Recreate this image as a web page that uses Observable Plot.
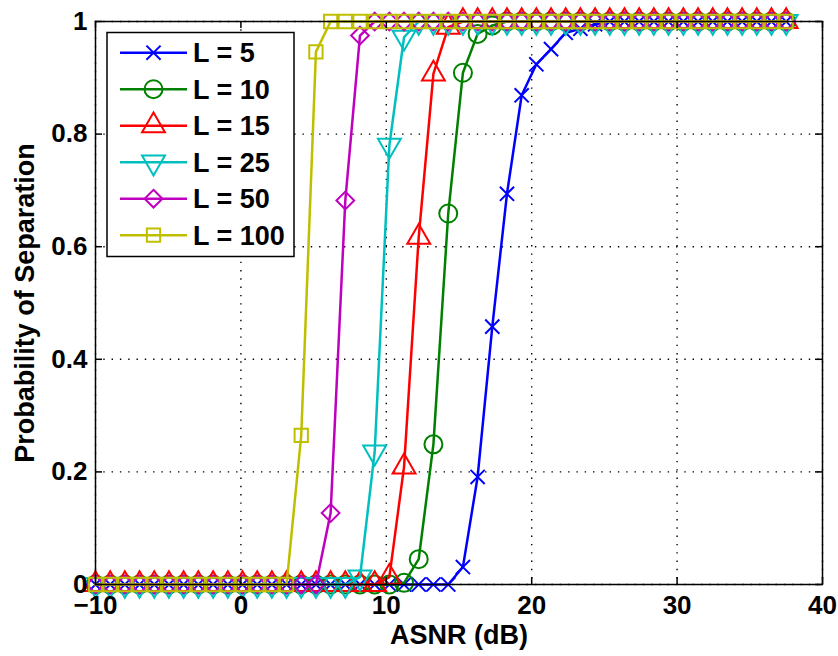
<!DOCTYPE html>
<html><head><meta charset="utf-8">
<script src="https://cdn.jsdelivr.net/npm/d3@7"></script>
<script src="https://cdn.jsdelivr.net/npm/@observablehq/plot@0.6"></script>
<style>
body{margin:0;background:#fff;}
#wrap{position:relative;width:838px;height:656px;background:#fff;}
</style></head><body><div id="wrap"></div>
<script>
// ASNR grid (dB)
const asnr = [-10,-8.99,-7.98,-6.97,-5.96,-4.95,-3.94,-2.93,-1.91,-0.9,0.11,1.12,2.13,3.14,4.15,5.16,6.17,7.18,8.19,9.2,10.21,11.22,12.23,13.24,14.26,15.27,16.28,17.29,18.3,19.31,20.32,21.33,22.34,23.35,24.36,25.37,26.38,27.39,28.4,29.41,30.43,31.44,32.45,33.46,34.47,35.48,36.49,37.5];
// Probability of separation for each L
const pL5   = [0,0,0,0,0,0,0,0,0,0,0,0,0,0,0,0,0,0,0,0,0,0,0,0,0,0.031,0.191,0.458,0.694,0.869,0.924,0.951,0.98,0.987,0.995,1,1,1,1,1,1,1,1,1,1,1,1,1];
const pL10  = [0,0,0,0,0,0,0,0,0,0,0,0,0,0,0,0,0,0,0,0,0,0.003,0.045,0.249,0.659,0.909,0.978,0.993,1,1,1,1,1,1,1,1,1,1,1,1,1,1,1,1,1,1,1,1];
const pL15  = [0,0,0,0,0,0,0,0,0,0,0,0,0,0,0,0,0,0,0,0,0.013,0.209,0.617,0.907,0.99,1,1,1,1,1,1,1,1,1,1,1,1,1,1,1,1,1,1,1,1,1,1,1];
const pL25  = [0,0,0,0,0,0,0,0,0,0,0,0,0,0,0,0,0,0,0.013,0.235,0.78,0.972,1,1,1,1,1,1,1,1,1,1,1,1,1,1,1,1,1,1,1,1,1,1,1,1,1,1];
const pL50  = [0,0,0,0,0,0,0,0,0,0,0,0,0,0,0,0,0.127,0.682,0.975,1,1,1,1,1,1,1,1,1,1,1,1,1,1,1,1,1,1,1,1,1,1,1,1,1,1,1,1,1];
const pL100 = [0,0,0,0,0,0,0,0,0,0,0,0,0,0,0.265,0.946,1,1,1,1,1,1,1,1,1,1,1,1,1,1,1,1,1,1,1,1,1,1,1,1,1,1,1,1,1,1,1,1];

const seriesNames   = ["L = 5","L = 10","L = 15","L = 25","L = 50","L = 100"];
const seriesValues  = [pL5, pL10, pL15, pL25, pL50, pL100];
const seriesColors  = ["#0000ff","#008000","#ff0000","#00bfbf","#bf00bf","#bfbf00"];
const seriesSymbols = ["times","circle","triangle","triangle","diamond2","square"];
const seriesRotate  = [0,0,0,180,0,0];
const seriesR       = [6.5,9,8.5,8.5,8,7.5];

const xTicks = [-10,0,10,20,30,40];
const yTicks = [0,0.2,0.4,0.6,0.8,1];
const yTickLabels = ["0","0.2","0.4","0.6","0.8","1"];

const W = 838, H = 656, mL = 95, mR = 16, mT = 21, mB = 72;
const innerW = W - mL - mR, innerH = H - mT - mB, tickLen = 7;
const FONT = "'Liberation Sans', Arial, sans-serif";

const seriesMarks = [];
seriesNames.forEach((name, k) => {
  const data = asnr.map((x, i) => ({x, y: seriesValues[k][i]}));
  seriesMarks.push(Plot.line(data, {x: "x", y: "y", stroke: seriesColors[k], strokeWidth: 2.5}));
  seriesMarks.push(Plot.dot(data, {x: "x", y: "y", stroke: seriesColors[k], fill: "none",
    symbol: seriesSymbols[k], r: seriesR[k], rotate: seriesRotate[k], strokeWidth: 2}));
});

const chart = Plot.plot({
  width: W, height: H,
  marginLeft: mL, marginRight: mR, marginTop: mT, marginBottom: mB,
  style: {fontFamily: FONT, fontSize: "26px", fontWeight: "bold", background: "#fff", overflow: "visible", color: "#000"},
  x: {domain: [-10, 40]},
  y: {domain: [0, 1]},
  marks: [
    Plot.gridX(xTicks, {stroke: "#000", strokeOpacity: 1, strokeWidth: 1.4, strokeDasharray: "1.4,6.9"}),
    Plot.gridY(yTicks, {stroke: "#000", strokeOpacity: 1, strokeWidth: 1.4, strokeDasharray: "1.4,6.9"}),
    ...seriesMarks,
    Plot.ruleX(xTicks, {stroke: "#000", strokeWidth: 1.5, insetTop: innerH - tickLen}),
    Plot.ruleX(xTicks, {stroke: "#000", strokeWidth: 1.5, insetBottom: innerH - tickLen}),
    Plot.ruleY(yTicks, {stroke: "#000", strokeWidth: 1.5, insetRight: innerW - tickLen}),
    Plot.ruleY(yTicks, {stroke: "#000", strokeWidth: 1.5, insetLeft: innerW - tickLen}),
    Plot.frame({stroke: "#000", strokeWidth: 1.5}),
    Plot.axisX(xTicks, {tickSize: 0, tickPadding: 11, fontSize: 26, label: null}),
    Plot.axisX({label: "ASNR (dB)", labelAnchor: "center", labelOffset: 59, labelArrow: "none", tickSize: 0, ticks: [], fontSize: 27}),
    Plot.axisY(yTicks, {tickSize: 0, tickPadding: 8, fontSize: 26, tickFormat: (d, i) => yTickLabels[i], label: null}),
    Plot.axisY({label: "Probability of Separation", labelAnchor: "center", labelOffset: 81, labelArrow: "none", tickSize: 0, ticks: [], fontSize: 27})
  ]
});
const wrap = document.getElementById("wrap");
wrap.appendChild(chart);

// Legend (inside the axes, upper-left)
const leg = d3.select(wrap).append("svg")
  .attr("width", W).attr("height", H)
  .style("position", "absolute").style("left", "0px").style("top", "0px");
leg.append("rect").attr("x", 107).attr("y", 32.5).attr("width", 187).attr("height", 224)
  .attr("fill", "#fff").attr("stroke", "#000").attr("stroke-width", 1.5);
const symMap = {times: d3.symbolTimes, circle: d3.symbolCircle, triangle: d3.symbolTriangle, diamond2: d3.symbolDiamond2, square: d3.symbolSquare};
seriesNames.forEach((name, k) => {
  const cy = 52.7 + 36.5 * k;
  const g = leg.append("g");
  g.append("line").attr("x1", 120).attr("x2", 187).attr("y1", cy).attr("y2", cy)
    .attr("stroke", seriesColors[k]).attr("stroke-width", 2.5);
  g.append("path")
    .attr("d", d3.symbol(symMap[seriesSymbols[k]], Math.PI * seriesR[k] * seriesR[k])())
    .attr("transform", `translate(153.5,${cy}) rotate(${seriesRotate[k]})`)
    .attr("fill", "none").attr("stroke", seriesColors[k]).attr("stroke-width", 2);
  g.append("text").attr("x", 193).attr("y", cy).attr("dy", "0.36em")
    .attr("font-family", FONT).attr("font-size", 27).attr("font-weight", "bold")
    .text(name);
});
</script></body></html>
